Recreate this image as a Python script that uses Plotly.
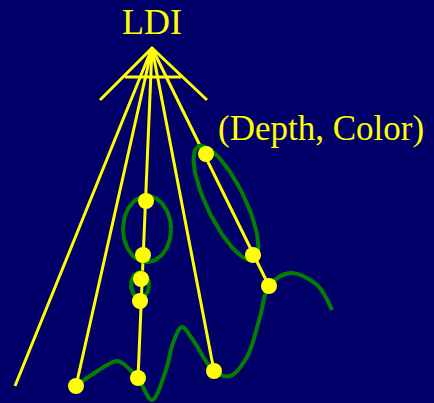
import plotly.graph_objects as go
import numpy as np

# Layered Depth Image diagram (pixel coordinate space, y downward)
apex = (152, 48)
ray_end_x = [15, 76, 138, 214, 269]
ray_end_y = [386, 386, 378, 371, 286]

fan_x = [100, 152, 207]
fan_y = [100, 48, 100]
bar_x = [125, 181]
bar_y = [77, 77]

sample_x = [76, 146, 143, 141, 140, 138, 214, 206, 253, 269]
sample_y = [386, 201, 255, 279, 301, 378, 371, 154, 255, 286]

surface_x = [76, 96, 117, 126, 138, 152, 166, 173, 182, 193, 214, 230, 247, 260, 269, 290, 317, 332]
surface_y = [386, 372, 361, 366, 378, 400, 370, 343, 327, 340, 371, 376, 357, 317, 286, 273, 285, 310]

# ellipses: center x, center y, semi-major, semi-minor, tilt (deg from vertical)
ell_cx = [147, 140, 226]
ell_cy = [229, 285, 203]
ell_a = [33, 13, 63]
ell_b = [24, 9, 19]
ell_tilt = [0, 0, -26]

BG = "#000068"
YEL = "#ffff00"
GRN = "#008000"

fig = go.Figure()

# rays
for ex, ey in zip(ray_end_x, ray_end_y):
    fig.add_trace(go.Scatter(x=[apex[0], ex], y=[apex[1], ey], mode="lines",
                             line=dict(color=YEL, width=3), hoverinfo="skip"))
fig.add_trace(go.Scatter(x=fan_x, y=fan_y, mode="lines", line=dict(color=YEL, width=3), hoverinfo="skip"))
fig.add_trace(go.Scatter(x=bar_x, y=bar_y, mode="lines", line=dict(color=YEL, width=3), hoverinfo="skip"))

# ellipses
t = np.linspace(0, 2 * np.pi, 120)
for cx, cy, a, b, tilt in zip(ell_cx, ell_cy, ell_a, ell_b, ell_tilt):
    th = np.radians(tilt)
    u = b * np.cos(t)
    v = a * np.sin(t)
    xs = cx + u * np.cos(th) - v * np.sin(th)
    ys = cy + u * np.sin(th) + v * np.cos(th)
    fig.add_trace(go.Scatter(x=xs, y=ys, mode="lines", line=dict(color=GRN, width=4), hoverinfo="skip"))

# surface
fig.add_trace(go.Scatter(x=surface_x, y=surface_y, mode="lines",
                         line=dict(color=GRN, width=4, shape="spline", smoothing=1.0), hoverinfo="skip"))

# samples
fig.add_trace(go.Scatter(x=sample_x, y=sample_y, mode="markers",
                         marker=dict(color=YEL, size=16, line=dict(width=0)), hoverinfo="skip"))

fig.add_annotation(x=152, y=44, text="LDI", showarrow=False, xanchor="center", yanchor="bottom",
                   font=dict(family="Liberation Serif", size=36, color=YEL))
fig.add_annotation(x=216, y=150, text="(Depth, Color)", showarrow=False, xanchor="left", yanchor="bottom",
                   font=dict(family="Liberation Serif", size=35, color=YEL))

fig.update_layout(
    width=434, height=403, margin=dict(l=0, r=0, t=0, b=0),
    paper_bgcolor=BG, plot_bgcolor=BG, showlegend=False,
    xaxis=dict(range=[0, 434], visible=False, fixedrange=True),
    yaxis=dict(range=[403, 0], visible=False, fixedrange=True),
)
fig.write_html("out.html", config={"displayModeBar": False},
               post_script="document.body.style.margin='0';document.body.style.background='#000068';")
